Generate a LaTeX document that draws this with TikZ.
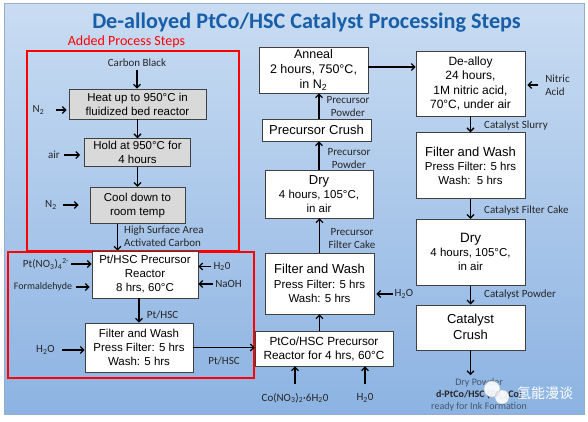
\documentclass[tikz,border=0pt]{standalone}
\usepackage{fontspec}
\setmainfont{Liberation Sans}
\newfontfamily\calibri{Carlito}
\newfontfamily\cjkfont{Noto Sans CJK SC}
\usetikzlibrary{positioning,arrows.meta}

\definecolor{titleblue}{RGB}{24,94,168}
\definecolor{boxgray}{RGB}{217,217,217}
\definecolor{bgtop}{RGB}{201,220,242}
\definecolor{bgbot}{RGB}{140,179,226}
\definecolor{frameblue}{RGB}{150,172,204}
\definecolor{notegray}{RGB}{70,86,110}

\tikzset{
  procbox/.style={draw=black!75, line width=0.6pt, fill=white, align=center, inner sep=1pt,
    font=\fontsize{11.5}{14}\selectfont},
  heatbox/.style={procbox, fill=boxgray},
  feed/.style={font=\calibri\fontsize{11}{13}\selectfont, text=black!85, inner sep=1pt},
  flow/.style={-{Straight Barb[length=3.5pt,width=7pt]}, line width=1.3pt},
  redframe/.style={draw=red, line width=1.3pt},
}

\begin{document}
\begin{tikzpicture}[x=1pt, y=-1pt]
\useasboundingbox (0,0) rectangle (588,421);
\fill[white] (0,0) rectangle (588,421);
\shadedraw[top color=bgtop, bottom color=bgbot, draw=frameblue] (4,3) rectangle (584,414);

% title
\node[font=\calibri\bfseries\fontsize{22.2}{26}\selectfont, text=titleblue] (title) at (306.5,23)
  {De-alloyed PtCo/HSC Catalyst Processing Steps};
\node[font=\calibri\fontsize{14}{16}\selectfont, text=red] (added) at (126.5,42) {Added Process Steps};
\draw[redframe] (27,51) rectangle (239,251);
\draw[redframe] (8,252) rectangle (254,378);

% carbon activation
\node[feed] (carbon) at (137,63) {Carbon Black};
\node[heatbox, minimum width=137pt, minimum height=30pt] (heat) at (137.5,104)
  {Heat up to 950°C in\\fluidized bed reactor};
\node[heatbox, minimum width=106pt, minimum height=28pt, below=19pt of heat] (hold)
  {Hold at 950°C for\\4 hours};
\node[heatbox, minimum width=95pt, minimum height=36pt, below=20pt of hold] (cool)
  {Cool down to\\room temp};
\node[feed] (nitroa) at (38.5,110) {N\textsubscript{2}};
\node[feed] (air) at (54,155) {air};
\node[feed] (nitrob) at (51,205) {N\textsubscript{2}};

% Pt deposition
\node[procbox, minimum width=106pt, minimum height=47pt] (ptrx) at (145,274.5)
  {Pt/HSC Precursor\\Reactor\\8 hrs, 60°C};
\node[procbox, minimum width=108pt, minimum height=49pt] (fwone) at (139,347.5)
  {Filter and Wash\\Press Filter: 5 hrs\\Wash: 5 hrs};
\node[feed] (ptsalt) at (46,264) {Pt(NO\textsubscript{3})\textsubscript{4}\textsuperscript{2-}};
\node[feed, font=\calibri\fontsize{10}{12}\selectfont] (formald) at (43,287) {Formaldehyde};
\node[feed] (wtra) at (222,266.5) {H\textsubscript{2}0};
\node[feed] (naoh) at (228.5,284) {NaOH};
\node[feed] (wtrb) at (45.5,350) {H\textsubscript{2}O};

% PtCo precursor
\node[procbox, minimum width=138pt, minimum height=35pt, font=\fontsize{11.8}{14}\selectfont] (ptco) at (324,348.5)
  {PtCo/HSC Precursor\\Reactor for 4 hrs, 60°C};
\node[procbox, minimum width=109pt, minimum height=61pt, font=\fontsize{11.5}{14.5}\selectfont] (fwtwo) at (319.5,283.5)
  {{\fontsize{13}{15}\selectfont Filter and Wash}\\Press Filter: 5 hrs\\Wash: 5 hrs};
\node[procbox, minimum width=108pt, minimum height=48pt] (dryone) at (319,194)
  {{\fontsize{13}{15}\selectfont Dry}\\4 hours, 105°C,\\in air};
\node[procbox, minimum width=109pt, minimum height=22pt, font=\fontsize{13}{15}\selectfont] (crushone) at (316.5,130)
  {Precursor Crush};
\node[procbox, minimum width=109pt, minimum height=46pt, font=\fontsize{12.5}{15}\selectfont] (anneal) at (313.5,70)
  {Anneal\\2 hours, 750°C,\\in N\textsubscript{2}};
\node[feed] (cosalt) at (295,398) {Co(NO\textsubscript{3})\textsubscript{2}·6H\textsubscript{2}0};
\node[feed] (wtrc) at (365,398) {H\textsubscript{2}0};
\node[feed] (wtrd) at (404,294) {H\textsubscript{2}O};

% de-alloy and finish
\node[procbox, minimum width=109pt, minimum height=65pt, font=\fontsize{12}{14.3}\selectfont] (dealloy) at (470.5,83.5)
  {De-alloy\\24 hours,\\1M nitric acid,\\70°C, under air};
\node[procbox, minimum width=109pt, minimum height=66pt, below=16pt of dealloy] (fwthree)
  {{\fontsize{13}{15}\selectfont Filter and Wash}\\Press Filter: 5 hrs\\Wash:\ \ 5 hrs};
\node[procbox, minimum width=109pt, minimum height=66pt, below=20pt of fwthree] (drytwo)
  {{\fontsize{13.5}{15}\selectfont Dry}\\4 hours, 105°C,\\in air};
\node[procbox, minimum width=109pt, minimum height=45pt, below=19pt of drytwo, font=\fontsize{13}{16}\selectfont] (crushtwo)
  {Catalyst\\Crush};
\node[feed, align=left] (nitric) at (557.5,85) {Nitric\\Acid};
\node[align=center, font=\calibri\fontsize{10}{12}\selectfont, text=notegray] (prod) at (479,395)
  {Dry Powder\\{\bfseries\color{black!85}d-PtCo/HSC (Pt\textsubscript{1.6}Co)}\\ready for Ink Formation};

% stream labels
\node[feed, align=left, anchor=west] (hsac) at (123,236) {High Surface Area\\Activated Carbon};
\node[feed] (pthsca) at (162.5,315) {Pt/HSC};
\node[feed] (pthscb) at (224,361) {Pt/HSC};
\node[feed, align=center] (pfcake) at (352,239) {Precursor\\Filter Cake};
\node[feed, align=center] (ppowa) at (349,158.5) {Precursor\\Powder};
\node[feed, align=center] (ppowb) at (348,107) {Precursor\\Powder};
\node[feed, anchor=west] (slurry) at (483,126) {Catalyst Slurry};
\node[feed, anchor=west] (cfcake) at (483,211) {Catalyst Filter Cake};
\node[feed, anchor=west] (cpow) at (483,295) {Catalyst Powder};

% flows
\draw[flow, shorten <=2pt] (carbon) -- (carbon |- heat.north);
\draw[flow] (heat.south) -- (heat.south |- hold.north);
\draw[flow] (hold.south) -- (hold.south |- cool.north);
\draw[flow] ([xshift=-20pt]cool.south) -- ([xshift=-20pt]cool.south |- ptrx.north);
\draw[flow] (fwone.north |- ptrx.south) -- (fwone.north);
\draw[flow] (fwone.east) -- (fwone.east -| ptco.west);
\draw[flow] (fwtwo.south |- ptco.north) -- (fwtwo.south);
\draw[flow] (fwtwo.north) -- (fwtwo.north |- dryone.south);
\draw[flow] (dryone.north) -- (dryone.north |- crushone.south);
\draw[flow] (dryone.north |- crushone.north) -- (dryone.north |- anneal.south);
\draw[flow] ([yshift=3pt]anneal.east) -- ([yshift=3pt]anneal.east -| dealloy.west);
\draw[flow] (dealloy) -- (fwthree);
\draw[flow] (fwthree) -- (drytwo);
\draw[flow] (drytwo) -- (crushtwo);
\draw[flow] (crushtwo.south) -- (crushtwo.south |- prod.north);

% feeds
\draw[flow, shorten <=11pt, shorten >=2pt] (nitroa) -- (nitroa -| heat.west);
\draw[flow, shorten <=3pt, shorten >=4pt] (air) -- (air -| hold.west);
\draw[flow, shorten <=5pt, shorten >=11pt] (nitrob) -- (nitrob -| cool.west);
\draw[flow, shorten <=1pt] (ptsalt) -- (ptsalt -| ptrx.west);
\draw[flow, shorten <=3pt, shorten >=2pt] (formald) -- (formald -| ptrx.west);
\draw[flow, shorten <=1pt] (wtra) -- (wtra -| ptrx.east);
\draw[flow, shorten <=1pt] (naoh) -- (naoh -| ptrx.east);
\draw[flow, shorten <=6pt] (wtrb) -- (wtrb -| fwone.west);
\draw[flow, shorten <=8pt] (cosalt) -- (cosalt |- ptco.south);
\draw[flow, shorten <=8pt] (wtrc) -- (wtrc |- ptco.south);
\draw[flow, shorten <=1pt, shorten >=2pt] (wtrd) -- (wtrd -| fwtwo.east);
\draw[flow, shorten <=6pt, shorten >=2pt] (nitric) -- (nitric -| dealloy.east);

% watermark
\filldraw[white, draw=gray!50, opacity=0.9] (492,389) circle (8) (502,397) circle (7);
\node[font=\cjkfont\fontsize{14}{14}\selectfont, text=white] (mark) at (545,393) {氢能漫谈};
\end{tikzpicture}
\end{document}
